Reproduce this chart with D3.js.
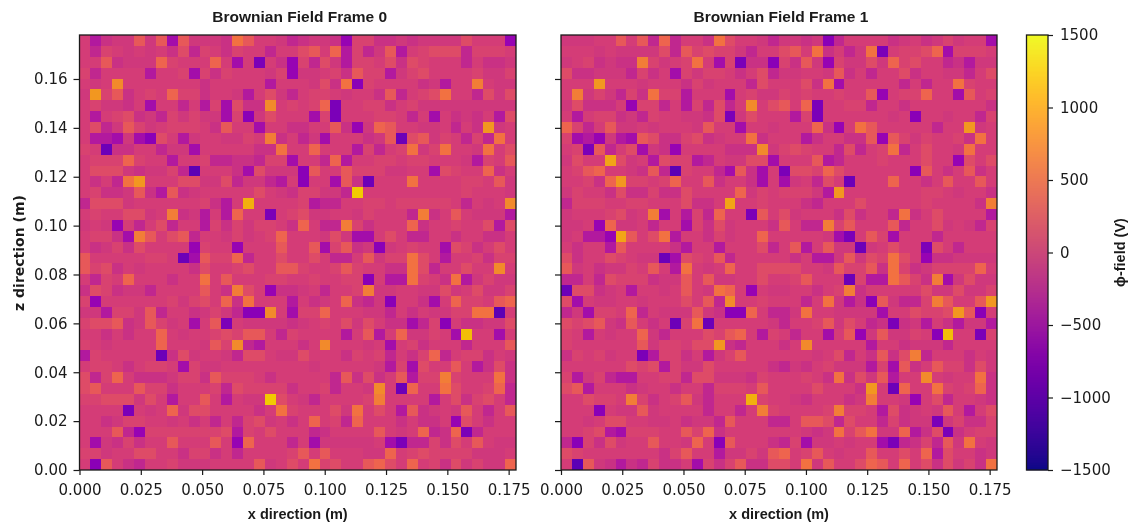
<!DOCTYPE html>
<html lang="en">

<head>
    <meta charset="UTF-8">
    <title>Brownian Field Frames</title>
    <script src="https://d3js.org/d3.v7.js"></script>
    <style>
        html, body { margin: 0; padding: 0; background: #fff; }
        svg { display: block; filter: blur(0.5px); }
        text { font-family: 'DejaVu Sans', sans-serif; fill: #1a1a1a; }
        .title, .axis-label { font-family: 'Liberation Sans', sans-serif; font-weight: bold; }
        .axis-label.dejavu { font-family: 'DejaVu Sans', sans-serif; }
        .cells { filter: saturate(1.2) brightness(0.95); }
    </style>
</head>

<body>
    <div id="chart"></div>
    <script>
        // cell values are shade grades, rows run top to bottom
        const gradeLevels = [-10, -5, -3, -2, -1, 0, 1, 2, 3, 5, 8, 12];
        const gradeVolts = [-1050, -520, -240, -130, -60, -10, 50, 150, 270, 520, 850, 1250];
        const frame0Rows = [
            [0,-4,-2,-1,-1,3,-1,3,-5,3,-1,-1,-1,-2,5,3,0,0,-1,-3, -2,-1,-1,-2,-6,1,1,-2,-2,-1,-2,-1,-1,-1,-1,2,0,0,0,-6],
            [0,-3,1,0,-1,0,-1,0,-2,2,-3,1,0,-2,1,0,0,-3,0,0, 2,3,0,4,-4,1,-3,-1,3,-4,0,1,2,2,2,-3,1,1,1,0],
            [0,0,3,-2,-1,-1,-1,4,1,0,0,0,4,0,-5,0,-8,0,-2,-6, 1,-3,2,-1,-4,1,1,0,2,-2,2,1,0,0,0,-3,0,-2,-2,-1],
            [1,-3,0,0,0,0,-4,0,0,1,-5,1,-2,1,0,0,0,-1,1,-6, -1,-1,0,1,-2,3,1,1,-4,-1,1,2,0,0,0,0,1,-1,-1,1],
            [0,-1,0,7,0,0,0,0,0,0,0,-2,0,0,0,0,0,-4,0,0, 0,-1,2,-2,5,-7,1,0,0,0,0,-2,-1,-4,0,0,6,0,-1,-1],
            [-1,8,1,3,-2,0,1,0,4,1,1,-2,0,0,-1,-4,0,2,-1,-3, 0,1,1,0,-1,0,0,-2,3,-3,0,1,2,5,0,0,-3,2,-1,2],
            [0,1,-1,-1,-2,0,-5,0,0,-3,0,-4,1,-5,2,-2,-2,7,0,1, 0,1,4,-8,0,0,1,1,-2,0,1,-1,-1,-1,-1,-1,-1,-1,-1,-1],
            [0,-4,0,1,2,-2,-1,-3,1,-1,1,-1,-1,-5,1,-7,-1,2,0,0, 0,-5,1,-8,0,0,0,1,1,0,-3,0,-5,0,-2,-1,-2,0,-4,2],
            [0,2,-3,-1,3,1,-1,0,1,1,1,0,-2,3,0,0,-5,0,0,-2, -2,0,0,3,-2,-6,-1,4,3,0,0,-1,-1,0,-3,0,-2,8,-1,0],
            [0,-4,-4,-5,-1,-5,-7,2,0,-4,-1,0,0,-1,-1,1,0,6,-2,0, -3,-1,-5,0,0,0,-2,-1,3,-9,2,3,-1,1,0,-3,1,-3,5,0],
            [1,0,-9,-2,-2,0,0,-3,-1,-1,-5,0,0,0,0,0,-2,-2,5,0, 0,4,0,0,0,-4,1,-3,0,1,5,-1,1,5,0,0,-1,5,0,2],
            [0,1,1,1,4,1,0,0,-4,0,0,1,-3,-3,-2,-2,-3,1,1,-5, 0,0,-3,4,-4,0,0,1,1,0,1,1,0,0,0,-1,-4,1,0,3],
            [0,2,2,2,-1,-2,-1,-1,1,-3,-10,0,0,0,-2,-5,2,-1,-1,-1, -7,3,0,0,3,1,1,1,-1,-1,0,0,-5,2,1,0,0,4,-2,0],
            [0,-2,0,-3,5,8,0,0,0,2,2,-1,-1,2,-3,-1,-1,-3,-4,0, -7,0,0,-5,3,-2,-9,0,0,0,5,0,0,0,0,1,1,0,3,-1],
            [0,1,-2,-2,-1,3,-2,-4,3,-2,-1,0,0,0,0,0,2,0,-1,-2, 1,1,-1,-1,-3,12,0,0,0,0,0,0,0,0,0,1,0,0,0,-1],
            [-3,2,2,2,-1,0,0,0,0,0,0,1,-2,-4,0,10,0,0,0,0, 1,-4,-3,-3,0,0,1,1,0,1,1,1,1,1,0,-3,0,-1,0,7],
            [0,1,0,0,2,2,-1,0,6,-2,-1,-4,0,-4,4,0,0,-8,0,1, 2,-1,-1,0,0,-1,1,0,0,0,-3,6,-2,0,3,0,-1,-1,-1,-4],
            [-1,0,-1,-6,0,-3,0,2,-3,0,0,-4,1,-2,1,-1,1,1,0,-2, 4,0,-3,-3,6,1,-2,0,0,0,4,-2,0,0,1,0,0,2,-4,2],
            [0,1,1,-2,-5,6,3,0,2,3,-3,0,0,-1,1,-1,0,1,4,0, 0,0,-1,2,-1,-5,-5,0,2,0,-3,-3,0,0,-2,0,0,-2,-2,0],
            [0,-2,-1,1,-2,2,0,0,0,0,-6,1,0,0,-6,0,0,0,3,0, 0,3,-5,1,3,-2,-1,-7,-1,0,1,0,0,-5,2,1,-2,0,2,0],
            [3,0,0,0,0,0,1,1,0,-9,-5,3,1,1,4,-3,0,0,2,0, 0,2,0,-3,-3,0,3,-1,1,1,5,2,0,-4,0,0,1,-2,1,1],
            [3,1,2,-2,0,-1,0,0,0,0,-2,2,0,0,1,2,0,0,3,3, 1,0,0,1,3,1,0,0,-2,-2,5,2,-3,0,0,2,0,0,7,0],
            [0,-3,1,0,4,0,0,0,-2,0,0,5,0,3,0,0,0,1,1,0, 0,1,0,0,1,1,-7,0,-4,-4,5,1,0,-2,5,-4,-1,1,-1,-1],
            [-2,2,1,-2,-1,-1,-3,0,0,0,0,3,0,-2,6,2,0,-6,-2,-2, -1,0,-3,0,0,1,6,-1,-1,0,0,-1,-1,2,-1,0,2,-1,-1,1],
            [1,-6,0,0,0,0,0,0,1,-1,1,2,0,4,-2,5,0,0,0,-4, 0,-2,-1,0,4,-2,-3,-1,-7,0,0,-2,-5,0,4,1,1,0,3,4],
            [-1,-1,-4,1,1,-1,3,-3,0,0,-2,-1,1,-1,-3,-7,-7,7,0,-5, 1,1,4,0,0,0,-1,-1,-3,0,-2,0,-1,-1,1,1,5,5,-10,0],
            [1,2,2,3,-2,-1,3,1,-1,0,-5,0,3,-8,0,-1,-1,-1,-1,-2, -1,0,1,0,2,-1,2,0,-2,-2,-5,-3,1,-7,0,-2,-2,-1,-1,2],
            [0,0,-2,0,-2,0,0,4,0,-1,0,0,1,2,1,3,3,0,-3,1, 0,0,0,0,-4,0,3,-4,0,4,-1,-1,1,0,-5,11,0,0,-5,0],
            [1,0,-1,0,0,0,0,4,0,0,0,-1,3,1,7,-3,-4,0,0,0, -2,0,7,0,0,0,-1,0,-5,0,1,-2,0,0,0,-3,0,0,0,3],
            [-4,1,0,0,0,0,0,-9,-2,2,-1,0,0,-1,-3,2,2,0,-1,-1, 2,0,0,0,-2,1,0,1,-3,0,-2,1,4,-3,0,1,1,-2,0,-1],
            [0,1,1,0,-2,0,1,1,0,-5,1,-1,-1,0,0,0,0,0,0,0, 0,-1,0,0,0,0,0,-1,-4,1,-5,2,0,0,3,0,-4,-2,2,-2],
            [2,-3,1,4,0,-2,-2,-2,-1,1,1,-2,3,1,1,1,0,-2,0,0, 0,0,0,-3,3,-2,2,-2,0,3,-4,1,1,6,1,0,0,0,5,-2],
            [2,3,0,0,0,3,1,1,-2,0,0,0,1,-3,2,1,1,1,1,-2, 0,0,1,-3,0,0,-1,7,0,-9,4,0,0,5,2,0,0,1,4,-3],
            [1,1,2,2,2,-1,2,0,-4,0,0,3,0,-4,0,-1,-1,12,2,0, -1,-3,0,0,0,0,1,6,0,0,0,0,-4,0,2,-2,1,2,0,-3],
            [0,0,0,0,-8,0,-1,0,4,-1,2,2,0,0,0,0,-2,0,5,1, 0,0,0,2,-1,5,0,2,0,-4,3,-2,-1,0,-1,3,0,-3,0,3],
            [0,0,-2,-1,1,1,0,0,-1,0,-2,0,-3,0,-3,1,2,-1,0,-2, 0,4,0,1,-3,4,0,0,0,-2,0,-2,-2,0,-6,2,0,-2,0,0],
            [0,0,0,3,-3,-6,1,1,1,1,1,1,1,2,-4,1,0,2,0,0, 0,-3,-2,0,0,0,0,3,0,-1,0,4,-3,-2,4,-8,-3,0,0,0],
            [0,-5,-1,-2,1,-2,0,0,3,0,0,0,3,0,-6,4,0,0,0,-3, 0,-5,-1,-1,-1,-1,-1,0,-5,-8,-3,-3,1,-2,2,0,3,0,-1,-1],
            [1,1,-1,0,0,2,2,0,0,-2,1,1,-2,0,-3,0,0,0,0,1, 3,0,3,0,0,0,-1,-1,4,0,1,2,1,1,1,1,-1,-1,-1,0],
            [0,-7,3,0,-2,-3,0,0,1,-1,-1,-1,0,0,0,0,3,-1,0,2, 0,5,1,2,0,0,3,4,2,0,4,0,1,-2,2,-1,1,-1,-1,4]
        ];
        const frame1Rows = [
            [-1,-1,-1,0,0,3,0,3,-3,4,-3,0,0,-2,5,2,0,0,-1,-3, -1,-1,-2,-1,-7,-3,0,0,0,0,-2,-1,0,-2,-1,1,-1,0,0,-5],
            [0,0,0,-1,0,-1,-1,-1,-1,2,-3,3,1,2,1,1,-1,-3,0,0, 2,3,0,5,-2,0,-3,-1,5,-8,0,1,1,2,4,-5,1,1,1,0],
            [-1,0,1,-2,-1,-2,-2,6,1,-1,0,1,5,0,-5,1,-8,-2,-2,-7, 1,-2,3,-1,-6,1,-1,-1,2,-1,4,1,2,0,0,-3,-2,-4,-1,-1],
            [2,-2,-2,-1,-1,-1,-3,1,-2,0,-5,1,-1,1,1,0,-2,0,2,-3, -1,-1,0,0,-1,3,-2,0,-3,0,0,2,-2,0,0,-1,-1,-3,0,2],
            [0,0,0,8,0,0,0,-1,0,0,0,-2,1,-1,0,0,0,-3,2,0, 0,0,2,-2,5,-5,0,0,0,0,0,-3,0,-3,0,0,5,1,0,0],
            [0,6,-1,1,-1,-3,1,-2,5,1,1,-4,0,0,0,-5,0,1,-1,-1, 1,0,1,0,0,1,0,0,3,-6,0,1,1,4,0,0,-5,3,0,1],
            [-1,2,-2,-2,-2,0,-6,1,1,-3,0,-4,1,-3,2,-3,0,7,0,2, 3,0,4,-8,0,0,1,1,-3,0,0,-2,0,0,0,0,0,0,0,-2],
            [0,-4,0,1,1,-2,-1,-3,1,0,0,-1,-1,-2,2,-8,-1,2,0,0, 0,-4,1,-8,0,0,0,0,0,0,-1,0,-7,0,0,-1,0,0,-3,1],
            [4,1,-3,0,3,-1,-1,0,-1,0,0,0,-1,3,0,0,-5,0,0,-1, 0,0,0,4,-2,-6,0,5,3,0,0,0,0,0,-3,0,0,8,-1,0],
            [1,-5,-4,-6,-1,-4,-5,3,2,-2,-2,1,2,-2,-1,0,0,5,-2,0, 0,0,-4,-2,0,0,-2,-2,3,-6,3,1,-1,1,0,0,1,-2,5,0],
            [0,1,-8,3,-3,0,2,-5,-1,-2,-6,0,0,0,0,-2,-2,-2,7,-1, 1,2,1,0,0,-3,2,-3,0,1,5,-3,0,2,0,0,-1,5,0,0],
            [-1,2,0,0,9,2,-1,0,-4,2,1,1,-4,-3,0,-1,-1,2,2,-5, 0,0,0,3,-4,-3,0,0,0,1,0,0,0,2,0,0,-6,2,0,2],
            [0,1,3,4,0,0,-1,-2,3,-3,-10,1,0,0,-3,-5,3,-2,-5,0, -8,2,2,1,4,2,0,0,0,0,0,0,-7,3,0,-2,0,3,-2,0],
            [0,0,1,-2,4,8,1,1,0,1,4,0,0,3,-2,0,0,-2,-5,0, -5,-1,0,-3,2,0,-9,0,0,0,4,0,0,-2,0,3,0,0,3,0],
            [-1,1,0,0,-2,2,-2,-2,1,-2,-2,2,0,0,0,0,4,-1,1,0, 1,1,1,-1,-4,8,0,0,0,0,0,0,0,1,1,0,-1,0,0,-2],
            [-3,1,1,1,0,0,1,1,0,0,0,2,-2,-2,0,9,0,0,1,0, 0,0,-2,-3,0,0,0,2,0,0,0,0,0,1,0,0,0,0,-2,6],
            [-1,0,0,0,1,2,-1,0,6,-5,0,-4,1,-3,4,0,0,-8,3,0, 2,-1,0,0,0,-2,2,-2,0,0,-3,5,-2,0,2,0,0,0,0,-4],
            [-1,-1,0,-6,4,-1,-1,0,-3,0,0,-5,1,-2,2,-1,0,0,0,-2, 3,0,-3,-3,6,1,3,0,0,0,3,-3,0,0,2,-1,0,-1,-3,1],
            [-1,0,-4,-4,-6,9,3,0,2,5,-4,0,0,-2,1,-1,0,0,4,0, 0,0,0,0,-1,-5,-8,0,3,1,-5,0,0,0,-3,0,0,0,0,0],
            [0,-2,0,0,-4,3,0,0,0,0,-2,-4,0,0,-4,0,0,0,2,-3, 0,3,-4,0,3,-1,-1,-9,-1,0,2,0,0,-8,2,0,-3,0,0,0],
            [2,-2,0,0,2,1,0,-1,-1,-9,-5,2,1,0,3,-3,0,0,0,0, 0,-2,0,-4,-4,-1,3,-1,2,1,5,2,0,-6,-2,-2,-1,-1,-1,-1],
            [3,-1,0,-2,-1,-1,1,0,3,0,-4,5,0,-1,0,4,0,0,2,2, 2,2,0,0,-1,3,1,1,3,-2,5,1,-2,-1,1,1,1,1,4,0],
            [-3,-3,0,-3,2,1,1,1,-2,-1,-1,3,0,3,-1,-1,0,0,2,0, 0,1,3,0,0,0,-9,1,-4,-4,5,3,1,-2,6,-5,-1,2,-1,-1],
            [-9,2,2,-2,-1,0,-4,0,0,-1,0,3,0,-1,5,4,0,-6,0,-1, -1,0,0,-2,0,1,6,-2,0,0,0,0,0,2,-1,-1,2,-1,-1,1],
            [2,-5,0,-1,-1,0,0,-1,0,0,0,2,0,3,-3,7,0,0,1,0, 0,0,-3,0,5,-1,-4,-2,-7,3,-1,-3,-3,1,6,3,0,0,3,8],
            [-3,-1,-5,1,1,0,4,-3,0,-1,-1,-1,3,-1,-2,-7,-7,4,0,-3, -3,-1,5,0,0,-1,-1,-1,-1,-5,0,0,2,1,1,2,8,3,-7,0],
            [2,1,2,3,-1,-2,3,0,-2,0,-9,1,5,-9,0,0,0,0,0,-1, -3,0,0,1,3,-1,2,0,-3,-2,-8,-2,-1,-4,0,-2,-4,-1,-1,-4],
            [1,0,-4,0,-1,0,0,4,-1,-3,0,0,0,2,1,3,4,0,-4,1, 0,-3,0,0,-5,0,3,-6,-1,3,-1,-1,1,0,-7,11,0,0,-8,1],
            [1,0,0,0,0,0,0,3,-1,1,1,0,2,2,8,-2,-3,0,0,0, -2,0,7,0,0,0,0,0,-4,0,0,-2,-1,-1,-1,-3,0,0,0,0],
            [-2,1,0,1,-1,0,0,-8,-4,1,1,-2,0,-4,-1,1,3,0,0,0, 0,0,0,-1,0,2,-3,0,-2,3,-2,2,6,-3,0,0,0,-2,0,-1],
            [0,0,0,0,0,0,2,1,2,-4,1,-1,-1,2,0,0,0,0,0,-2, -3,-1,-2,0,1,-1,-1,-1,-4,1,-5,3,-2,0,3,1,1,-2,2,-1],
            [1,-4,-1,1,-3,-4,-4,0,0,1,1,-3,2,2,-1,-1,-1,-2,1,0, 0,0,1,0,-2,5,-2,2,-1,3,-4,0,0,7,0,-1,0,0,5,-2],
            [2,3,-4,0,0,0,-2,-1,0,0,-2,0,0,-3,1,1,1,0,3,0, 0,0,0,2,0,0,0,-2,8,0,-9,4,0,0,5,1,0,1,4,-2],
            [0,0,2,1,1,0,6,1,-2,0,1,3,-1,-3,0,0,0,10,1,0, 0,-1,-2,0,0,0,-2,-1,6,0,0,-1,-6,0,2,-3,0,0,-1,-2],
            [0,0,0,-7,0,-1,-1,3,-1,0,0,0,0,-3,0,0,-3,0,6,1, 0,0,0,0,1,6,1,1,0,-4,2,-2,-1,0,-1,3,0,-4,0,2],
            [0,0,-1,0,2,2,0,0,-1,-1,0,-2,-1,-1,-3,3,0,0,0,-3, -3,0,3,3,2,-3,2,0,0,-3,1,-2,-1,-1,-8,-1,1,-2,-2,1],
            [0,0,1,2,-4,-5,1,1,1,0,0,3,1,4,-2,0,0,0,0,0, 0,0,-1,-2,-1,5,1,3,5,-1,-1,4,-4,-2,2,-8,-2,0,1,1],
            [-3,-7,1,-2,2,-1,0,0,3,0,0,-1,4,0,-7,3,0,0,0,-2, -3,1,-5,-1,-1,0,-1,0,0,-5,-8,-3,-2,1,-3,3,-1,5,0,-1],
            [2,1,0,0,0,0,0,0,0,-2,1,3,0,0,-4,-1,-1,1,-1,3, 4,0,1,3,0,-1,0,0,3,0,0,2,0,4,-4,2,0,0,-2,-1],
            [0,-10,3,-1,-2,-4,-2,-3,1,-2,-2,0,-5,1,-2,1,3,-2,-2,2, 2,0,5,-1,3,0,0,2,4,3,0,4,0,2,-2,2,-1,1,-2,5]
        ];

        const frameTitles = ["Brownian Field Frame 0", "Brownian Field Frame 1"];
        const xTicks = [0, 0.025, 0.05, 0.075, 0.1, 0.125, 0.15, 0.175];
        const yTicks = [0, 0.02, 0.04, 0.06, 0.08, 0.1, 0.12, 0.14, 0.16];
        const colorTicks = [-1500, -1000, -500, 0, 500, 1000, 1500];
        const fieldExtent = 0.178;
        const colorExtent = [-1500, 1500];

        const width = 1129, height = 526;
        const plotTop = 35, plotBottom = 470;
        const panels = [
            { left: 79.5, right: 516, rows: frame0Rows, title: frameTitles[0], showY: true },
            { left: 561, right: 997, rows: frame1Rows, title: frameTitles[1], showY: false }
        ];

        const toVolts = d3.scaleLinear().domain(gradeLevels).range(gradeVolts);
        const color = d3.scaleSequential(d3.interpolatePlasma).domain(colorExtent);

        const svg = d3.select("#chart")
            .append("svg")
            .attr("width", width)
            .attr("height", height);

        const yScale = d3.scaleLinear().domain([0, fieldExtent]).range([plotBottom, plotTop]);

        function styleAxis(g) {
            g.selectAll("text").attr("font-size", "15px").attr("fill", "#1a1a1a");
            g.selectAll("line").attr("stroke", "#1a1a1a").attr("stroke-width", 1.2);
        }

        panels.forEach(p => {
            const xScale = d3.scaleLinear().domain([0, fieldExtent]).range([p.left, p.right]);
            const dCell = fieldExtent / p.rows.length;
            const g = svg.append("g");
            const cells = g.append("g").attr("class", "cells");

            // rows come top first, so row 0 sits at the highest z
            p.rows.forEach((row, i) => {
                cells.selectAll(null)
                    .data(row)
                    .join("rect")
                    .attr("shape-rendering", "crispEdges")
                    .attr("x", (d, j) => xScale(j * dCell))
                    .attr("y", yScale(fieldExtent - i * dCell))
                    .attr("width", xScale(dCell) - xScale(0) + 0.3)
                    .attr("height", yScale(0) - yScale(dCell) + 0.3)
                    .attr("fill", d => color(toVolts(d)));
            });

            g.append("rect")
                .attr("x", p.left)
                .attr("y", plotTop)
                .attr("width", p.right - p.left)
                .attr("height", plotBottom - plotTop)
                .attr("fill", "none")
                .attr("stroke", "#1a1a1a")
                .attr("stroke-width", 1.3);

            g.append("g")
                .attr("transform", `translate(0,${plotBottom})`)
                .call(d3.axisBottom(xScale).tickValues(xTicks).tickFormat(d3.format(".3f")).tickSize(5).tickPadding(9))
                .call(styleAxis)
                .call(a => a.select(".domain").remove());

            g.append("g")
                .attr("transform", `translate(${p.left},0)`)
                .call(d3.axisLeft(yScale).tickValues(yTicks)
                    .tickFormat(p.showY ? d3.format(".2f") : "").tickSize(6).tickPadding(6))
                .call(styleAxis)
                .call(a => a.select(".domain").remove());

            g.append("text")
                .attr("class", "title")
                .attr("x", (p.left + p.right) / 2 + 2)
                .attr("y", 22)
                .attr("text-anchor", "middle")
                .attr("font-size", "15.5px")
                .text(p.title);

            g.append("text")
                .attr("class", "axis-label")
                .attr("x", (p.left + p.right) / 2)
                .attr("y", 519)
                .attr("text-anchor", "middle")
                .attr("font-size", "14.5px")
                .text("x direction (m)");
        });

        svg.append("text")
            .attr("class", "axis-label dejavu")
            .attr("transform", `translate(24,253) rotate(-90)`)
            .attr("text-anchor", "middle")
            .attr("font-size", "14px")
            .text("z direction (m)");

        // colour bar
        const barLeft = 1026.5, barWidth = 21.5;
        const barScale = d3.scaleLinear().domain(colorExtent).range([plotBottom, plotTop]);
        const barSteps = d3.range(plotBottom - plotTop);
        svg.append("g")
            .selectAll("rect")
            .data(barSteps)
            .join("rect")
            .attr("x", barLeft)
            .attr("y", d => plotTop + d)
            .attr("width", barWidth)
            .attr("height", 1.3)
            .attr("fill", d => color(barScale.invert(plotTop + d + 0.5)));

        svg.append("rect")
            .attr("x", barLeft)
            .attr("y", plotTop)
            .attr("width", barWidth)
            .attr("height", plotBottom - plotTop)
            .attr("fill", "none")
            .attr("stroke", "#1a1a1a")
            .attr("stroke-width", 1.3);

        svg.append("g")
            .attr("transform", `translate(${barLeft + barWidth},0)`)
            .call(d3.axisRight(barScale).tickValues(colorTicks).tickFormat(d => d3.format("d")(d).replace("-", "\u2212")).tickSize(5).tickPadding(7))
            .call(styleAxis)
            .call(a => a.select(".domain").remove());

        svg.append("text")
            .attr("class", "axis-label")
            .attr("transform", `translate(1125,${(plotTop + plotBottom) / 2}) rotate(-90)`)
            .attr("text-anchor", "middle")
            .attr("font-size", "14.5px")
            .text("\u03d5-field (V)");
    </script>
</body>

</html>
